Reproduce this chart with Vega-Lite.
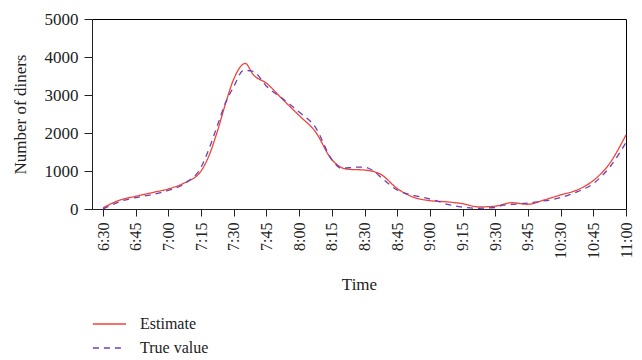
{
  "$schema": "https://vega.github.io/schema/vega-lite/v6.json",
  "width": 534,
  "height": 190,
  "autosize": {"type": "none"},
  "padding": {"left": 92, "top": 19, "right": 16, "bottom": 151},
  "background": "white",
  "config": {
    "view": {"stroke": "black", "strokeWidth": 1},
    "font": "Liberation Serif",
    "axis": {"labelFont": "Liberation Serif", "titleFont": "Liberation Serif", "labelColor": "#222", "titleColor": "#222", "domainColor": "#222", "tickColor": "#222", "titleFontWeight": "normal"},
    "legend": {"labelFont": "Liberation Serif"}
  },
  "data": {
    "values": [
      {"idx": 0, "value": 30, "series": "Estimate"},
      {"idx": 0.25, "value": 140, "series": "Estimate"},
      {"idx": 0.5, "value": 230, "series": "Estimate"},
      {"idx": 1, "value": 335, "series": "Estimate"},
      {"idx": 1.5, "value": 430, "series": "Estimate"},
      {"idx": 2, "value": 530, "series": "Estimate"},
      {"idx": 2.5, "value": 690, "series": "Estimate"},
      {"idx": 3, "value": 1000, "series": "Estimate"},
      {"idx": 3.25, "value": 1420, "series": "Estimate"},
      {"idx": 3.5, "value": 2050, "series": "Estimate"},
      {"idx": 3.75, "value": 2780, "series": "Estimate"},
      {"idx": 4, "value": 3420, "series": "Estimate"},
      {"idx": 4.35, "value": 3830, "series": "Estimate"},
      {"idx": 4.6, "value": 3530, "series": "Estimate"},
      {"idx": 5, "value": 3310, "series": "Estimate"},
      {"idx": 5.5, "value": 2880, "series": "Estimate"},
      {"idx": 6, "value": 2460, "series": "Estimate"},
      {"idx": 6.5, "value": 2030, "series": "Estimate"},
      {"idx": 7, "value": 1300, "series": "Estimate"},
      {"idx": 7.3, "value": 1090, "series": "Estimate"},
      {"idx": 7.5, "value": 1045, "series": "Estimate"},
      {"idx": 8, "value": 1025, "series": "Estimate"},
      {"idx": 8.5, "value": 910, "series": "Estimate"},
      {"idx": 9, "value": 540, "series": "Estimate"},
      {"idx": 9.5, "value": 310, "series": "Estimate"},
      {"idx": 10, "value": 220, "series": "Estimate"},
      {"idx": 10.5, "value": 190, "series": "Estimate"},
      {"idx": 11, "value": 140, "series": "Estimate"},
      {"idx": 11.5, "value": 55, "series": "Estimate"},
      {"idx": 12, "value": 75, "series": "Estimate"},
      {"idx": 12.5, "value": 165, "series": "Estimate"},
      {"idx": 13, "value": 125, "series": "Estimate"},
      {"idx": 13.5, "value": 240, "series": "Estimate"},
      {"idx": 14, "value": 370, "series": "Estimate"},
      {"idx": 14.5, "value": 500, "series": "Estimate"},
      {"idx": 15, "value": 750, "series": "Estimate"},
      {"idx": 15.5, "value": 1200, "series": "Estimate"},
      {"idx": 16, "value": 1950, "series": "Estimate"},
      {"idx": 0, "value": 0, "series": "True value"},
      {"idx": 0.25, "value": 100, "series": "True value"},
      {"idx": 0.5, "value": 190, "series": "True value"},
      {"idx": 1, "value": 300, "series": "True value"},
      {"idx": 1.5, "value": 380, "series": "True value"},
      {"idx": 2, "value": 490, "series": "True value"},
      {"idx": 2.5, "value": 670, "series": "True value"},
      {"idx": 3, "value": 1100, "series": "True value"},
      {"idx": 3.25, "value": 1600, "series": "True value"},
      {"idx": 3.5, "value": 2200, "series": "True value"},
      {"idx": 3.75, "value": 2800, "series": "True value"},
      {"idx": 4, "value": 3220, "series": "True value"},
      {"idx": 4.3, "value": 3650, "series": "True value"},
      {"idx": 4.6, "value": 3620, "series": "True value"},
      {"idx": 5, "value": 3230, "series": "True value"},
      {"idx": 5.5, "value": 2900, "series": "True value"},
      {"idx": 6, "value": 2550, "series": "True value"},
      {"idx": 6.5, "value": 2150, "series": "True value"},
      {"idx": 7, "value": 1300, "series": "True value"},
      {"idx": 7.3, "value": 1070, "series": "True value"},
      {"idx": 7.75, "value": 1100, "series": "True value"},
      {"idx": 8, "value": 1100, "series": "True value"},
      {"idx": 8.2, "value": 1040, "series": "True value"},
      {"idx": 8.6, "value": 760, "series": "True value"},
      {"idx": 9, "value": 500, "series": "True value"},
      {"idx": 9.6, "value": 340, "series": "True value"},
      {"idx": 10, "value": 265, "series": "True value"},
      {"idx": 10.6, "value": 110, "series": "True value"},
      {"idx": 11, "value": 50, "series": "True value"},
      {"idx": 11.5, "value": 20, "series": "True value"},
      {"idx": 12, "value": 40, "series": "True value"},
      {"idx": 12.25, "value": 100, "series": "True value"},
      {"idx": 12.7, "value": 130, "series": "True value"},
      {"idx": 13.3, "value": 190, "series": "True value"},
      {"idx": 14, "value": 300, "series": "True value"},
      {"idx": 14.5, "value": 450, "series": "True value"},
      {"idx": 15, "value": 670, "series": "True value"},
      {"idx": 15.5, "value": 1100, "series": "True value"},
      {"idx": 16, "value": 1750, "series": "True value"}
    ]
  },
  "mark": {"type": "line", "interpolate": "monotone", "strokeWidth": 1.3},
  "encoding": {
    "x": {
      "field": "idx",
      "type": "quantitative",
      "scale": {"domain": [-0.337, 16], "nice": false, "zero": false},
      "axis": {
        "title": "Time",
        "values": [0,1,2,3,4,5,6,7,8,9,10,11,12,13,14,15,16],
        "labelExpr": "['6:30','6:45','7:00','7:15','7:30','7:45','8:00','8:15','8:30','8:45','9:00','9:15','9:30','9:45','10:30','10:45','11:00'][datum.value]",
        "labelAngle": 270,
        "labelAlign": "right",
        "labelBaseline": "middle",
        "labelFontSize": 16,
        "labelPadding": 6,
        "tickSize": 7,
        "titleFontSize": 17,
        "titlePadding": 18,
        "grid": false,
        "labelOverlap": false,
        "labelBound": false
      }
    },
    "y": {
      "field": "value",
      "type": "quantitative",
      "scale": {"domain": [0, 5000], "nice": false},
      "axis": {
        "title": "Number of diners",
        "values": [0, 1000, 2000, 3000, 4000, 5000],
        "format": "d",
        "labelFontSize": 17,
        "labelPadding": 6,
        "tickSize": 8,
        "titleFontSize": 17,
        "titlePadding": 15,
        "grid": false
      }
    },
    "color": {
      "field": "series",
      "type": "nominal",
      "scale": {"domain": ["Estimate", "True value"], "range": ["#f2433a", "#6d3fb5"]},
      "legend": {
        "title": null,
        "orient": "none",
        "legendX": 0,
        "legendY": 296,
        "labelFontSize": 16,
        "labelColor": "#222",
        "symbolType": "stroke",
        "symbolSize": 1100,
        "symbolStrokeWidth": 1.3,
        "clipHeight": 18,
        "rowPadding": 6,
        "labelOffset": 13
      }
    },
    "strokeDash": {
      "field": "series",
      "type": "nominal",
      "scale": {"domain": ["Estimate", "True value"], "range": [[1, 0], [6, 5]]},
      "legend": null
    }
  }
}
